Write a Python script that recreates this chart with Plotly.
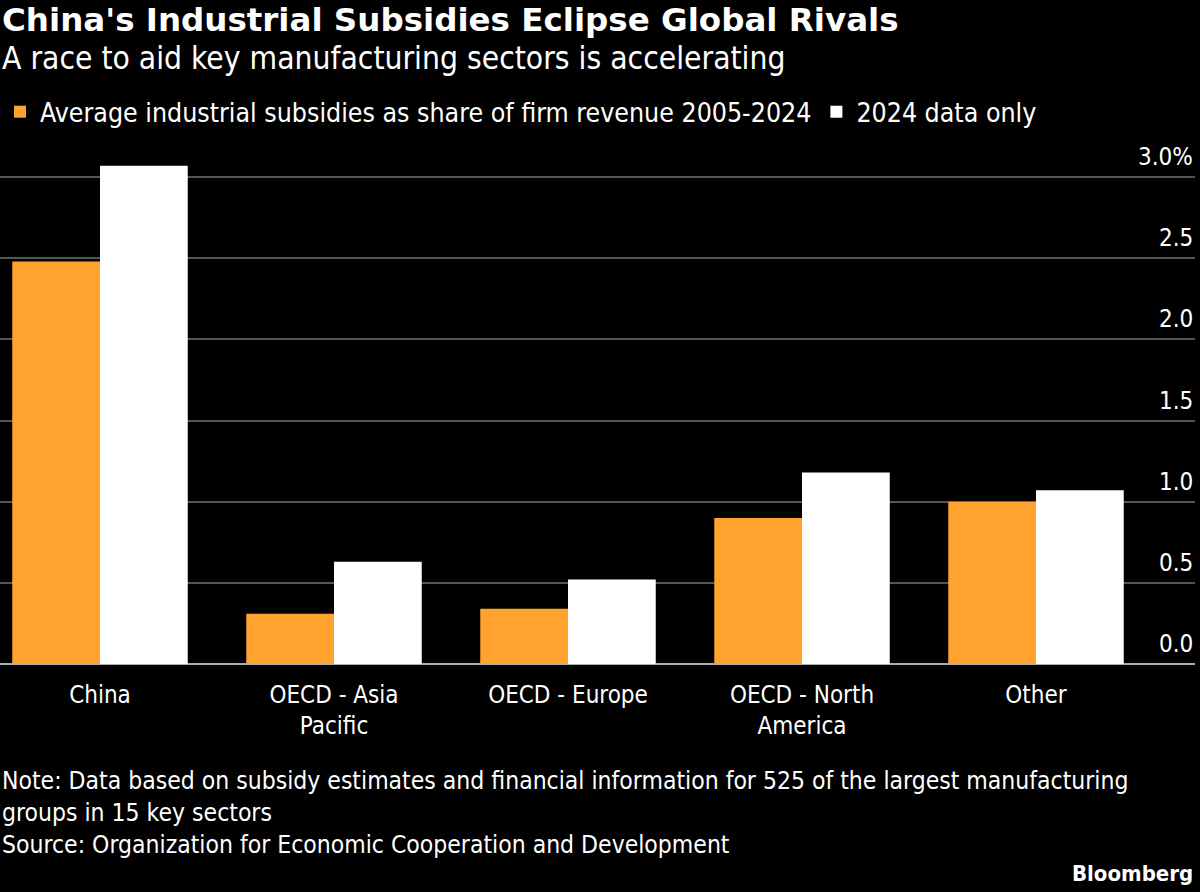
import plotly.graph_objects as go

categories = ["China", "OECD - Asia<br>Pacific", "OECD - Europe", "OECD - North<br>America", "Other"]
avg_2005_2024 = [2.48, 0.31, 0.34, 0.90, 1.00]
data_2024 = [3.07, 0.63, 0.52, 1.18, 1.07]
y_ticks = [0, 0.5, 1.0, 1.5, 2.0, 2.5, 3.0]
y_tick_labels = ["0.0", "0.5", "1.0", "1.5", "2.0", "2.5", "3.0%"]

FONT = "DejaVu Sans Condensed, Roboto, Arial"
TFONT = "DejaVu Sans, Arial"
W, H = 1200, 892
L, R, T, B = 0, 5, 150, 228
ph = H - T - B

def py(px):  # pixel y -> paper y
    return (H - B - px) / ph

fig = go.Figure()
fig.add_bar(x=list(range(5)), y=avg_2005_2024, name="Average industrial subsidies as share of firm revenue 2005-2024",
            marker_color="#FFA22E", marker_line_width=0)
fig.add_bar(x=list(range(5)), y=data_2024, name="2024 data only",
            marker_color="#FFFFFF", marker_line_width=0)

ann = [
    ("<b>China's Industrial Subsidies Eclipse Global Rivals</b>", 20, 32.5, TFONT),
    ("A race to aid key manufacturing sectors is accelerating", 58, 31.5, FONT),
    ("Note: Data based on subsidy estimates and financial information for 525 of the largest manufacturing<br>groups in 15 key sectors", 796, 24.5, FONT),
    ("Source: Organization for Economic Cooperation and Development", 844, 24.5, FONT),
]
annotations = []
for text, y, size, fam in ann:
    annotations.append(dict(xref="paper", yref="paper", xanchor="left", yanchor="middle", showarrow=False,
                            align="left", x=0, y=py(y), text=text,
                            font=dict(family=fam, color="white", size=size)))
annotations.append(dict(xref="paper", yref="paper", xanchor="right", yanchor="middle", showarrow=False,
                        x=1.0, y=py(874), text="<b>Bloomberg</b>",
                        font=dict(family=FONT, color="white", size=22)))
for v, t in zip(y_ticks, y_tick_labels):
    annotations.append(dict(xref="paper", yref="y", x=1.0, y=v, xanchor="right", yanchor="bottom",
                            yshift=4, showarrow=False, text=t,
                            font=dict(family=FONT, color="white", size=24)))

span = (W - L - R) / 234.0
fig.update_layout(
    width=W, height=H, paper_bgcolor="black", plot_bgcolor="black",
    margin=dict(l=L, r=R, t=T, b=B),
    barmode="group", bargap=0.25, bargroupgap=0,
    font=dict(family=FONT, color="white", size=22),
    showlegend=True,
    legend=dict(orientation="h", x=0, xanchor="left", y=py(112), yanchor="middle",
                font=dict(family=FONT, size=26.5, color="white"), itemsizing="constant",
                bgcolor="rgba(0,0,0,0)", traceorder="normal"),
    xaxis=dict(range=[-100/234, -100/234 + span], tickmode="array", tickvals=list(range(5)),
               ticktext=categories, showgrid=False, zeroline=False, showline=False,
               tickfont=dict(family=FONT, size=24, color="white"), ticks="", ticklen=0,
               ticklabelstandoff=14),
    yaxis=dict(range=[0, 3 + 3 * (177 - T) / (664 - 177)],
               showticklabels=False, tickvals=y_ticks, gridcolor="#555555", gridwidth=1.5,
               zeroline=True, zerolinecolor="#aaaaaa", zerolinewidth=1.5, showline=False),
    annotations=annotations,
)
fig.write_html("out.html", config={"displayModeBar": False})
with open("out.html", encoding="utf-8") as f:
    html = f.read()
html = html.replace("<head>", "<head><style>html,body{margin:0;padding:0;overflow:hidden;background:black}</style>", 1)
with open("out.html", "w", encoding="utf-8") as f:
    f.write(html)
